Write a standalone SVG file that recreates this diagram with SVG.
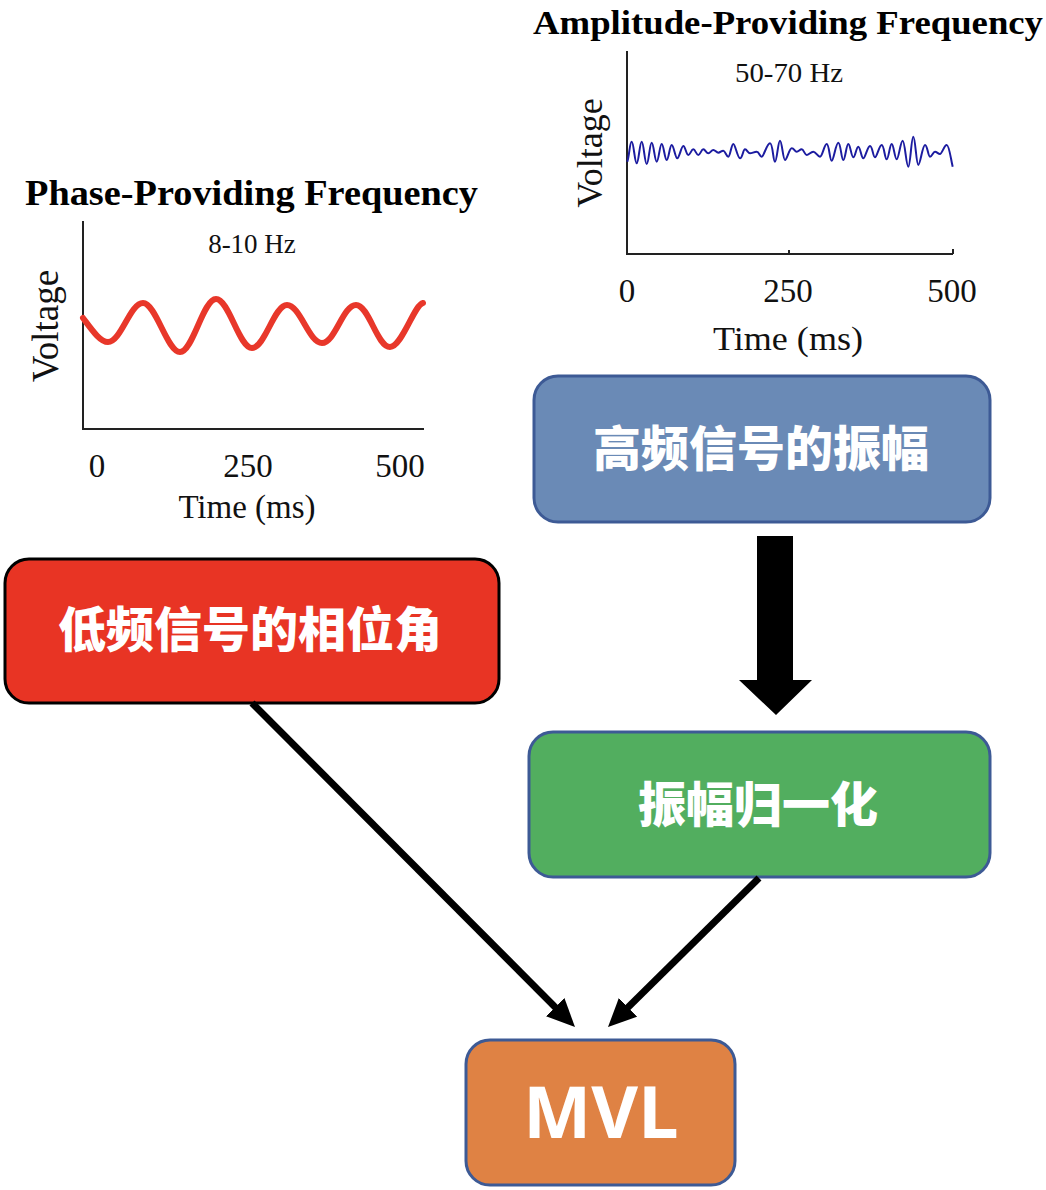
<svg xmlns="http://www.w3.org/2000/svg" width="1046" height="1190" viewBox="0 0 1046 1190">
<style>
.title{font-family:"Liberation Serif","Times New Roman",serif;font-weight:bold;fill:#000}
.lbl{font-family:"Liberation Serif","Times New Roman",serif;fill:#111}
.axis{stroke:#222;stroke-width:2;fill:none}
.box{stroke-width:3}
.cn{font-family:"Noto Sans CJK SC","Noto Sans",sans-serif;font-weight:900;fill:#fff;font-size:48px;text-anchor:middle}
.conn{stroke:#000;stroke-width:7;fill:none}
</style>
<defs>
<marker id="ah" markerUnits="userSpaceOnUse" viewBox="0 0 28 26" refX="14" refY="13" markerWidth="28" markerHeight="26" orient="auto">
<path d="M0,0 L28,13 L0,26 z" fill="#000"/>
</marker>
</defs>
<rect width="1046" height="1190" fill="#fff"/>

<g id="phase-chart">
<text class="title" x="25" y="205" font-size="36" textLength="453" lengthAdjust="spacingAndGlyphs">Phase-Providing Frequency</text>
<text class="lbl" x="252" y="253" font-size="27" text-anchor="middle">8-10 Hz</text>
<text class="lbl" transform="translate(58,326) rotate(-90)" font-size="37" text-anchor="middle">Voltage</text>
<path class="axis" d="M83,221 V429 H424"/>
<path d="M83,318 C92,330 100,342 108,342 C121,342 130,303 143,303 C156,303 167,352 180,352 C193,352 203,299 216,299 C229,299 239,348 252,348 C265,348 274,305 287,305 C300,305 309,343 322,343 C335,343 343,305 356,305 C369,305 377,347 390,347 C402,347 414,305 423,303" fill="none" stroke="#e8372a" stroke-width="6" stroke-linecap="round"/>
<text class="lbl" x="97" y="477" font-size="33" text-anchor="middle">0</text>
<text class="lbl" x="248" y="477" font-size="33" text-anchor="middle">250</text>
<text class="lbl" x="400" y="477" font-size="33" text-anchor="middle">500</text>
<text class="lbl" x="247" y="518" font-size="33" text-anchor="middle">Time (ms)</text>
</g>

<g id="amplitude-chart">
<text class="title" x="533" y="34" font-size="33" textLength="510" lengthAdjust="spacingAndGlyphs">Amplitude-Providing Frequency</text>
<text class="lbl" x="789" y="82" font-size="27" text-anchor="middle" textLength="108" lengthAdjust="spacingAndGlyphs">50-70 Hz</text>
<text class="lbl" transform="translate(602,153) rotate(-90)" font-size="36" text-anchor="middle">Voltage</text>
<path class="axis" d="M627,51 V254 H953 M789,254 V250 M953,254 V249"/>
<path d="M627.3,161.7 C629.5,155 629.7,141.7 631.7,141.7 S634.7,163.3 636.7,163.3 S639.7,141.7 641.7,141.7 S644.7,164 646.7,164 S649.7,142.7 651.7,142.7 S654.7,161.7 656.7,161.7 S659.7,144 661.7,144 S664.7,160 666.7,160 S669.7,145 671.7,145 S675.3,158.3 677.3,158.3 S681.3,146 683.3,146 S686.3,155 688.3,155 S691.3,149.3 693.3,149.3 S696.3,155 698.3,155 S701.3,149.3 703.3,149.3 S706.3,153.3 708.3,153.3 S711.3,150 713.3,150 S716.3,152.7 718.3,152.7 S721.3,150.7 723.3,150.7 S726.3,156.7 728.3,156.7 S731.3,144 733.3,144 S737.5,158.3 740,158.3 S743,149.3 745,149.3 S748,153.3 750,153.3 S754.2,151.7 756.7,151.7 S759.7,156.7 761.7,156.7 S767,143.3 770,143.3 S773,161.7 775,161.7 S778,140.7 780,140.7 S783,160 785,160 S789.2,148.3 791.7,148.3 S794.7,151.7 796.7,151.7 S799.7,149.3 801.7,149.3 S804.7,155 806.7,155 S810.8,151.7 813.3,151.7 S817.5,156.7 820,156.7 S824.2,144 826.7,144 S829.7,160.7 831.7,160.7 S835.8,142.7 838.3,142.7 S841.3,160 843.3,160 S846.3,144 848.3,144 S851.3,157.3 853.3,157.3 S856.3,146.7 858.3,146.7 S861.3,158.3 863.3,158.3 S867.5,146 870,146 S873,157.3 875,157.3 S879.2,145 881.7,145 S884.7,159.3 886.7,159.3 S889.7,144 891.7,144 S894.7,159.3 896.7,159.3 S900.5,140.7 902.7,140.7 S906.2,166.7 908.3,166.7 S911.3,136.7 913.3,136.7 S916.3,165 918.3,165 S922.5,145 925,145 S928,156.7 930,156.7 S933,151.7 935,151.7 S938,154 940,154 S944.2,145 946.7,145 S951,160 952.7,166.7" fill="none" stroke="#1c1ca0" stroke-width="2" stroke-linejoin="round"/>
<text class="lbl" x="627" y="302" font-size="33" text-anchor="middle">0</text>
<text class="lbl" x="788" y="302" font-size="33" text-anchor="middle">250</text>
<text class="lbl" x="952" y="302" font-size="33" text-anchor="middle">500</text>
<text class="lbl" x="788" y="350" font-size="34" text-anchor="middle" textLength="150" lengthAdjust="spacingAndGlyphs">Time (ms)</text>
</g>

<g id="node-high-amp">
<rect class="box" x="534" y="376" width="456" height="146" rx="24" fill="#6a8ab6" stroke="#3d5a95"/>
<text class="cn" x="761" y="466">高频信号的振幅</text>
</g>

<g id="node-low-phase">
<rect class="box" x="5" y="559" width="494" height="144" rx="24" fill="#e83424" stroke="#000"/>
<text class="cn" x="250" y="647">低频信号的相位角</text>
</g>

<g id="node-normalize">
<rect class="box" x="529" y="732" width="461" height="145" rx="24" fill="#52ae5f" stroke="#3d5a95"/>
<text class="cn" x="758" y="822">振幅归一化</text>
</g>

<g id="node-mvl">
<rect class="box" x="466" y="1040" width="269" height="145" rx="24" fill="#df8244" stroke="#3d5a95"/>
<text x="601" y="1138" font-family="'Open Sans','Noto Sans',sans-serif" font-weight="bold" font-size="72" fill="#fff" text-anchor="middle">MVL</text>
</g>

<g id="connectors">
<polygon points="757,536 793,536 793,680 812,680 776,715 739,680 757,680" fill="#000"/>
<line class="conn" x1="252" y1="703" x2="565.1" y2="1017.1" marker-end="url(#ah)"/>
<line class="conn" x1="759" y1="878" x2="618" y2="1017.2" marker-end="url(#ah)"/>
</g>
</svg>
